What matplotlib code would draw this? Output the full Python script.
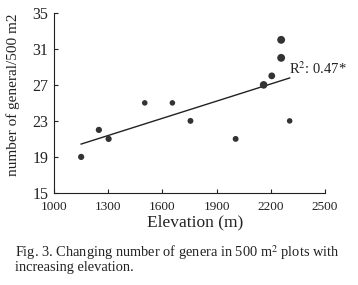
import numpy as np
import matplotlib
matplotlib.use("Agg")
import matplotlib.pyplot as plt

# data
elevation = [1150, 1248, 1302, 1502, 1655, 1755, 2005, 2160, 2205, 2257, 2257, 2304]
genera = [19, 22, 21, 25, 25, 23, 21, 27, 28, 30, 32, 23]
dot_size = [20, 20, 20, 16, 16, 18, 18, 30, 24, 32, 32, 16]

x_ticks = [1000, 1300, 1600, 1900, 2200, 2500]
y_ticks = [15, 19, 23, 27, 31, 35]

plt.rcParams['font.family'] = ['Liberation Serif', 'DejaVu Serif']
plt.rcParams['mathtext.fontset'] = 'stix'

fig = plt.figure(figsize=(3.58, 2.85), dpi=100)
ax = fig.add_axes([0.151, 0.323, 0.757, 0.632])

ax.scatter(elevation, genera, s=dot_size, color='#333333', zorder=3, linewidths=0)

# linear fit
slope, intercept = np.polyfit(elevation, genera, 1)
xs = np.array([min(elevation), max(elevation)])
ax.plot(xs, slope * xs + intercept, color='#222222', lw=1.0)
ax.text(2300, 28.8, 'R$^2$: 0.47*', fontsize=10.5, color='#222222', va='center')

ax.set_xlim(1000, 2500)
ax.set_ylim(15, 35)
ax.set_xticks(x_ticks)
ax.set_yticks(y_ticks)
ax.tick_params(direction='in', length=3, width=0.8, colors='#222222')
ax.tick_params(axis='x', pad=6, labelsize=9.5)
ax.tick_params(axis='y', pad=4, labelsize=11.5)
for s in ['top', 'right']:
    ax.spines[s].set_visible(False)
for s in ['left', 'bottom']:
    ax.spines[s].set_linewidth(0.8)
    ax.spines[s].set_color('#222222')

ax.set_xlabel('Elevation (m)', fontsize=12.5, color='#222222')
ax.xaxis.set_label_coords(0.52, -0.12)
ax.set_ylabel('number of general/500 m2', fontsize=11, color='#222222')
ax.yaxis.set_label_coords(-0.125, 0.545)

fig.text(0.042, 1 - 253 / 285, 'Fig. 3. Changing number of genera in 500 m$^2$ plots with',
         fontsize=10.4, color='#222222', va='center')
fig.text(0.042, 1 - 268 / 285, 'increasing elevation.',
         fontsize=10.4, color='#222222', va='center')

fig.savefig('out.png', dpi=100)
